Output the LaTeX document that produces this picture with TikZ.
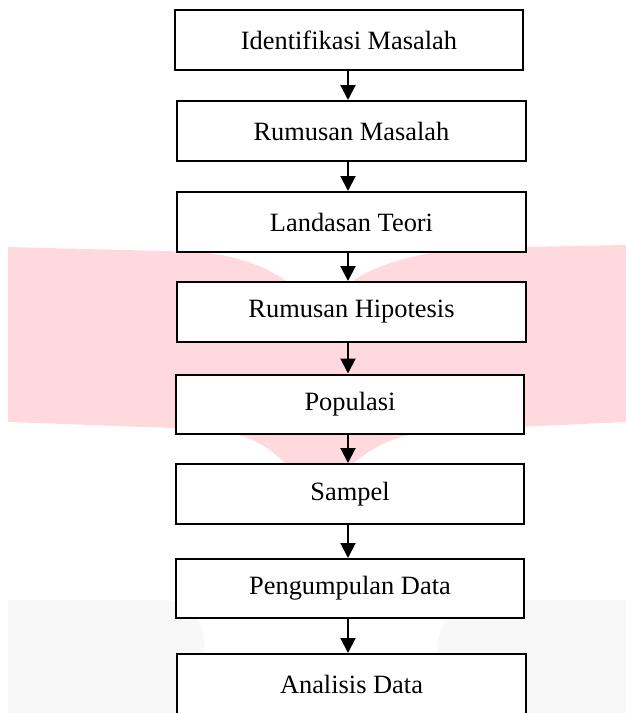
\documentclass[tikz,border=0pt]{standalone}
\usepackage{fontspec}
\setmainfont{Liberation Serif}
\usetikzlibrary{arrows.meta}
\definecolor{wmpink}{RGB}{255,217,221}
\definecolor{wmgray}{RGB}{248,248,248}
\tikzset{
  flowbox/.style={draw=black, line width=2pt, fill=white, inner sep=0pt,
    minimum width=349pt, minimum height=60pt,
    font=\fontsize{26.4}{30}\selectfont},
  flowarrow/.style={draw=black, line width=2pt,
    -{Triangle[length=15pt,width=15pt]}},
}
\begin{document}
\begin{tikzpicture}[x=1pt,y=-1pt]
\useasboundingbox (0,0) rectangle (626,713);
% watermark (left and right pages)
\fill[wmpink] (8,247) -- (200,252) .. controls (240,256) and (270,268) .. (290,284)
  -- (320,286) -- (320,470) -- (292,470)
  .. controls (265,442) and (245,432) .. (200,429) -- (8,422) -- cycle;
\fill[wmpink] (626,245) -- (470,248) .. controls (420,252) and (375,264) .. (350,283)
  -- (320,286) -- (320,470) -- (350,466)
  .. controls (375,445) and (395,436) .. (430,431) -- (626,422) -- cycle;
\fill[wmgray] (8,600) -- (160,600) .. controls (190,600) and (205,620) .. (205,650)
  -- (205,713) -- (8,713) -- cycle;
\fill[wmgray] (626,600) -- (490,600) .. controls (460,600) and (437,620) .. (437,650)
  -- (437,713) -- (626,713) -- cycle;
% boxes
\node[flowbox, minimum width=348pt] (b1) at (349,40) {Identifikasi Masalah};
\node[flowbox] (b2) at (351.5,131) {Rumusan Masalah};
\node[flowbox] (b3) at (351.5,222) {Landasan Teori};
\node[flowbox] (b4) at (351.5,312) {Rumusan Hipotesis};
\node[flowbox, minimum width=348pt, minimum height=59pt] (b5) at (350,404) {Populasi};
\node[flowbox, minimum width=348pt] (b6) at (350,494) {Sampel};
\node[flowbox, minimum width=348pt, minimum height=59pt] (b7) at (350,588.5) {Pengumpulan Data};
\node[flowbox] (b8) at (351.5,684) {Analisis Data};
% arrows
\coordinate (ax) at (348,0);
\draw[flowarrow] (b1.south -| ax) -- (b2.north -| ax);
\draw[flowarrow] (b2.south -| ax) -- (b3.north -| ax);
\draw[flowarrow] (b3.south -| ax) -- (b4.north -| ax);
\draw[flowarrow] (b4.south -| ax) -- (b5.north -| ax);
\draw[flowarrow] (b5.south -| ax) -- (b6.north -| ax);
\draw[flowarrow] (b6.south -| ax) -- (b7.north -| ax);
\draw[flowarrow] (b7.south -| ax) -- (b8.north -| ax);
\end{tikzpicture}
\end{document}
